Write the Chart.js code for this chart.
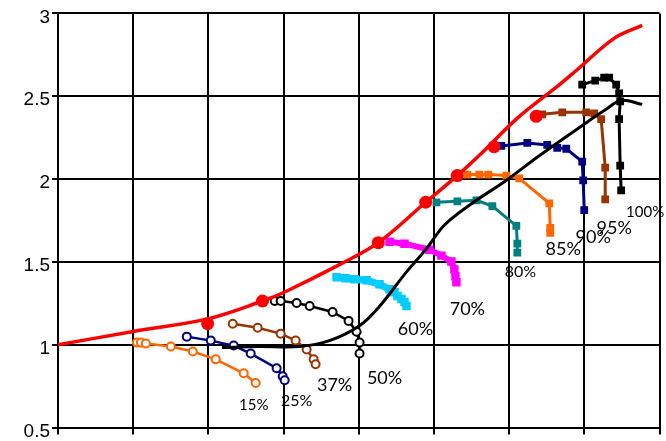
<!DOCTYPE html>
<html>
<head>
<meta charset="utf-8">
<script src="https://cdn.jsdelivr.net/npm/chart.js@4/dist/chart.umd.min.js"></script>
<style>
  html, body { margin: 0; padding: 0; background: #fff; }
  #wrap { width: 666px; height: 441px; }
</style>
</head>
<body>
<div id="wrap"><canvas id="chart"></canvas></div>
<script>
// y axis ticks, x has no labels
const yTicks = [0.5, 1, 1.5, 2, 2.5, 3];

// envelope (red) and S curve (black)
const redX = [0, 1.0, 1.99, 2.72, 3.01, 3.75, 4.26, 4.89, 5.31, 5.64, 6.11, 6.67, 6.89, 7.40, 7.77];
const redY = [1.0, 1.08, 1.156, 1.264, 1.317, 1.485, 1.616, 1.860, 2.021, 2.159, 2.368, 2.570, 2.654, 2.851, 2.928];
const dotX = [1.99, 2.72, 4.26, 4.89, 5.31, 5.80, 6.36];
const dotY = [1.127, 1.264, 1.616, 1.860, 2.021, 2.195, 2.379];
const sX = [2.18, 2.68, 3.21, 3.61, 4.01, 4.28, 4.63, 4.89, 5.14, 5.47, 5.96, 6.40, 7.00, 7.29, 7.49, 7.77];
const sY = [0.983, 0.989, 0.989, 1.025, 1.115, 1.234, 1.437, 1.574, 1.723, 1.842, 1.992, 2.141, 2.332, 2.421, 2.475, 2.451];

// curves per percentage
const x15 = [1.049, 1.102, 1.169, 1.501, 1.793, 2.098, 2.470, 2.629];
const y15 = [1.013, 1.013, 1.007, 0.989, 0.959, 0.912, 0.828, 0.769];
const x25 = [1.713, 2.032, 2.337, 2.563, 2.908, 2.988, 3.015];
const y25 = [1.049, 1.025, 0.995, 0.947, 0.858, 0.810, 0.786];
const x37 = [2.324, 2.656, 2.961, 3.161, 3.307, 3.400, 3.426];
const y37 = [1.127, 1.103, 1.067, 1.025, 0.971, 0.912, 0.882];
const x50 = [2.882, 2.961, 3.174, 3.347, 3.652, 3.865, 3.971, 4.011, 4.011];
const y50 = [1.264, 1.264, 1.252, 1.234, 1.198, 1.144, 1.079, 1.013, 0.947];
const x60 = [3.705, 3.825, 3.944, 4.104, 4.276, 4.409, 4.475, 4.515, 4.568, 4.608, 4.635];
const y60 = [1.407, 1.401, 1.395, 1.389, 1.365, 1.335, 1.317, 1.294, 1.276, 1.258, 1.234];
const x70 = [4.409, 4.608, 4.940, 5.100, 5.232, 5.272, 5.286, 5.299];
const y70 = [1.622, 1.610, 1.574, 1.538, 1.502, 1.455, 1.413, 1.377];
const x80 = [5.033, 5.312, 5.565, 5.777, 6.096, 6.109, 6.109];
const y80 = [1.860, 1.866, 1.872, 1.837, 1.717, 1.610, 1.556];
const x85 = [5.445, 5.604, 5.724, 5.963, 6.135, 6.534, 6.547, 6.547];
const y85 = [2.027, 2.027, 2.027, 2.021, 2.004, 1.854, 1.705, 1.675];
const x90 = [5.896, 6.242, 6.507, 6.640, 6.760, 6.972, 6.985, 6.999];
const y90 = [2.200, 2.218, 2.206, 2.189, 2.183, 2.105, 1.992, 1.813];
const x95 = [6.441, 6.707, 7.025, 7.131, 7.224, 7.278, 7.278];
const y95 = [2.391, 2.403, 2.403, 2.397, 2.362, 2.069, 1.878];
const x100 = [6.972, 7.145, 7.264, 7.331, 7.424, 7.463, 7.477, 7.463, 7.477, 7.490];
const y100 = [2.570, 2.594, 2.612, 2.612, 2.570, 2.517, 2.469, 2.362, 2.081, 1.932];

// curve labels
const labelText = ['15%', '25%', '37%', '50%', '60%', '70%', '80%', '85%', '90%', '95%', '100%'];
const labelX = [2.603, 3.174, 3.679, 4.343, 4.754, 5.445, 6.149, 6.720, 7.118, 7.397, 7.809];
const labelY = [0.637, 0.661, 0.757, 0.798, 1.097, 1.216, 1.443, 1.574, 1.652, 1.705, 1.801];
const labelSize = [15, 16, 18, 18, 18, 18, 16, 18, 18, 18, 15];

const pts = (xs, ys) => xs.map((x, i) => ({ x: x, y: ys[i] }));

const openCircles = (xs, ys, color) => ({
    data: pts(xs, ys), showLine: true, borderColor: color, borderWidth: 2.5,
    pointStyle: 'circle', pointRadius: 4, pointBorderWidth: 2,
    pointBackgroundColor: '#fff', pointBorderColor: color
});
const squares = (xs, ys, color, w, r) => ({
    data: pts(xs, ys), showLine: true, borderColor: color, borderWidth: w,
    pointStyle: 'rect', pointRadius: r, pointBorderWidth: 0,
    pointBackgroundColor: color
});

const curveLabels = {
    id: 'curveLabels',
    afterDatasetsDraw(chart) {
        const ctx = chart.ctx;
        const xs = chart.scales.x, ys = chart.scales.y;
        ctx.save();
        ctx.fillStyle = '#000';
        ctx.textAlign = 'center';
        ctx.textBaseline = 'middle';
        labelText.forEach((t, i) => {
            ctx.font = labelSize[i] + 'px Lato';
            ctx.fillText(t, xs.getPixelForValue(labelX[i]), ys.getPixelForValue(labelY[i]));
        });
        ctx.restore();
    }
};

new Chart(document.getElementById('chart'), {
    type: 'scatter',
    data: {
        datasets: [
            { data: pts(dotX, dotY), pointRadius: 6.5, pointBackgroundColor: '#ff0000', pointBorderWidth: 0 },
            { data: pts(redX, redY), showLine: true, borderColor: '#ff0000', borderWidth: 3.5, pointRadius: 0, tension: 0.35 },
            { data: pts(sX, sY), showLine: true, borderColor: '#000', borderWidth: 3, pointRadius: 0, tension: 0.35 },
            openCircles(x15, y15, '#ff6600'),
            openCircles(x25, y25, '#000080'),
            openCircles(x37, y37, '#993300'),
            openCircles(x50, y50, '#000'),
            squares(x60, y60, '#00ccff', 7, 6),
            squares(x70, y70, '#ff00ff', 6, 6),
            squares(x80, y80, '#008080', 3, 5.5),
            squares(x85, y85, '#ff6600', 3, 5.5),
            squares(x90, y90, '#000080', 3, 5.5),
            squares(x95, y95, '#993300', 3, 5.5),
            squares(x100, y100, '#000', 3, 5.5)
        ]
    },
    options: {
        responsive: true,
        maintainAspectRatio: false,
        animation: false,
        layout: { padding: { top: 11, right: 6, left: 0, bottom: 0 } },
        plugins: { legend: { display: false }, tooltip: { enabled: false } },
        scales: {
            x: {
                type: 'linear', min: 0, max: 8,
                ticks: { stepSize: 1, callback: () => '' },
                grid: { color: '#000', lineWidth: 2, tickLength: 7 },
                border: { color: '#000', width: 2 },
                afterFit(scale) { scale.height = 11; }
            },
            y: {
                type: 'linear', min: 0.5, max: 3,
                afterBuildTicks(scale) { scale.ticks = yTicks.map(v => ({ value: v })); },
                ticks: {
                    color: '#000', padding: 2, labelOffset: 4,
                    font: { family: 'Liberation Sans', size: 19 },
                    callback: (v) => String(v)
                },
                grid: { color: '#000', lineWidth: 2, tickLength: 6 },
                border: { color: '#000', width: 2 },
                afterFit(scale) { scale.width = 58; }
            }
        }
    },
    plugins: [curveLabels]
});
</script>
</body>
</html>
